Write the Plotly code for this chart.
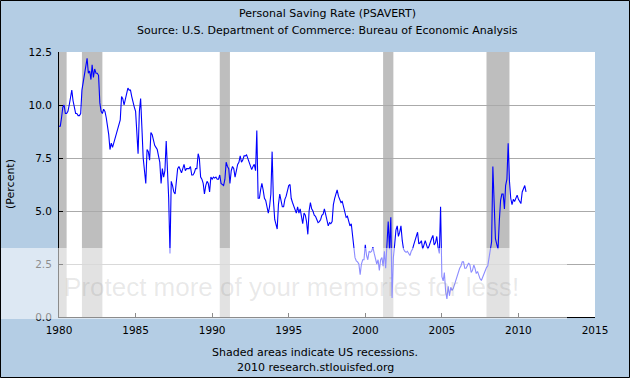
import pandas as pd
import plotly.graph_objects as go

# ---------------- data ----------------
start_month = "1980-01-01"
saving_rate = [
    # 1980
    9.0, 9.0, 9.4, 9.9, 10.0, 9.6, 9.6, 9.7, 10.0, 10.3, 10.7, 10.2,
    # 1981
    9.8, 9.6, 9.6, 9.5, 9.5, 9.6, 10.7, 11.1, 11.5, 11.9, 12.2, 11.5,
    # 1982
    11.6, 11.2, 11.9, 11.3, 11.7, 11.5, 11.5, 11.4, 10.1, 9.7, 9.6, 9.8,
    # 1983
    9.7, 9.4, 9.0, 8.6, 7.9, 8.2, 8.0, 8.2, 8.5, 8.7, 8.9, 9.0,
    # 1984
    9.3, 10.4, 10.3, 10.0, 10.3, 10.5, 10.8, 10.7, 10.7, 10.4, 10.1, 9.9,
    # 1985
    9.7, 8.6, 7.7, 9.7, 10.3, 8.9, 7.5, 6.9, 6.3, 7.9, 7.8, 7.4,
    # 1986
    8.7, 8.6, 8.3, 8.1, 8.0, 7.9, 7.6, 7.3, 6.3, 7.0, 6.6, 6.9,
    # 1987
    8.3, 6.8, 5.6, 3.0, 6.4, 6.2, 5.9, 5.8, 6.4, 7.0, 7.1, 6.9,
    # 1988
    6.8, 7.0, 7.2, 6.9, 7.0, 7.0, 7.0, 7.1, 6.7, 6.7, 6.8, 7.0,
    # 1989
    7.0, 7.7, 7.5, 6.6, 6.5, 6.3, 5.8, 6.2, 6.4, 6.3, 5.9, 6.6,
    # 1990
    6.5, 6.6, 6.55, 6.6, 6.5, 6.5, 6.7, 6.3, 6.25, 6.2, 6.5, 7.3,
    # 1991
    7.1, 7.0, 6.3, 6.9, 7.1, 7.0, 6.6, 7.0, 7.2, 7.3, 7.6, 7.3,
    # 1992
    7.4, 7.6, 7.6, 7.65, 7.5, 7.3, 7.2, 6.95, 7.1, 7.2, 6.9, 8.8,
    # 1993
    5.6, 5.6, 6.0, 6.3, 6.0, 5.6, 5.5, 5.2, 4.9, 5.2, 5.8, 7.8,
    # 1994
    5.5, 4.6, 4.3, 4.15, 5.3, 5.8, 5.5, 5.2, 5.2, 5.55, 5.7, 5.95,
    # 1995
    6.2, 6.25, 5.6, 5.4, 5.25, 5.0, 4.9, 5.2, 4.9, 5.1, 4.6, 4.4,
    # 1996
    4.9, 4.8, 4.5, 3.9, 5.0, 5.4, 5.1, 5.0, 4.8, 4.75, 4.6, 4.45,
    # 1997
    4.5, 4.6, 4.8, 4.85, 5.1, 4.8, 4.5, 4.3, 4.45, 4.4, 4.5, 5.3,
    # 1998
    5.6, 5.9, 6.0, 5.7, 5.5, 5.4, 5.45, 5.15, 4.9, 4.7, 4.75, 4.5,
    # 1999
    4.3, 4.4, 3.8, 3.1, 2.8, 2.65, 2.6, 2.5, 2.0, 2.5, 2.7, 2.7,
    # 2000
    3.4, 2.9, 2.7, 3.1, 3.05, 3.1, 3.3, 3.0, 2.8, 2.5, 2.7, 2.2,
    # 2001
    2.7, 2.8, 2.4, 3.1, 2.3, 3.4, 4.5, 3.2, 4.7, 0.9, 2.8, 3.4,
    # 2002
    4.1, 4.3, 3.8, 4.0, 4.3, 3.6, 3.2, 3.1, 3.05, 3.1, 3.0, 2.9,
    # 2003
    3.1, 3.2, 3.4, 3.6, 3.75, 4.0, 3.45, 3.5, 3.6, 3.2, 3.4, 3.6,
    # 2004
    3.4, 3.2, 3.35, 3.6, 3.7, 3.85, 3.4, 3.5, 3.8, 3.3, 3.0, 5.2,
    # 2005
    1.9, 1.7, 2.1, 1.2, 0.85, 1.45, 1.0, 1.4, 1.25, 1.35, 1.55, 1.7,
    # 2006
    2.0, 2.2, 2.3, 2.4, 2.6, 2.6, 2.3, 2.3, 2.45, 2.55, 2.45, 2.1,
    # 2007
    2.2, 2.45, 2.3, 2.05, 2.15, 1.9, 1.8, 1.72, 1.88, 2.1, 2.2, 2.33,
    # 2008
    2.42, 2.75, 3.1, 3.55, 7.1, 5.3, 3.7, 3.44, 3.2, 4.5, 5.5, 5.8,
    # 2009
    5.8, 5.1, 6.2, 6.5, 8.2, 6.4, 5.6, 5.3, 5.55, 5.45, 5.65, 5.75,
    # 2010
    5.55, 5.45, 5.35, 5.9, 6.1, 6.2, 5.9,
]

recession_starts = ["1980-01-01", "1981-07-01", "1990-07-01", "2001-03-01", "2007-12-01"]
recession_ends = ["1980-07-01", "1982-11-01", "1991-03-01", "2001-11-01", "2009-06-01"]

x_tick_years = [1980, 1985, 1990, 1995, 2000, 2005, 2010, 2015]
y_tick_values = [0.0, 2.5, 5.0, 7.5, 10.0, 12.5]

title_text = "Personal Saving Rate (PSAVERT)"
subtitle_text = "Source: U.S. Department of Commerce: Bureau of Economic Analysis"
y_title = "(Percent)"
footer_1 = "Shaded areas indicate US recessions."
footer_2 = "2010 research.stlouisfed.org"
watermark_text = "Protect more of your memories for less!"

# ---------------- layout geometry ----------------
W, H = 630, 378
L, R, T, B = 59, 35, 52, 61
PW, PH = W - L - R, H - T - B


def px_x(x):
    return (x - L) / PW


def px_y(y):
    return (H - B - y) / PH


BG = "rgb(180,205,228)"
FONT = "DejaVu Sans"

dates = pd.date_range(start_month, periods=len(saving_rate), freq="MS")

fig = go.Figure()
fig.add_trace(go.Scatter(
    x=dates, y=saving_rate, mode="lines",
    line=dict(color="#0000FF", width=1.1),
    showlegend=False, hoverinfo="x+y",
))

shapes = []
for s, e in zip(recession_starts, recession_ends):
    shapes.append(dict(
        type="rect", xref="x", yref="paper", x0=s, x1=e, y0=0, y1=1,
        fillcolor="#BEBEBE", line=dict(width=0), layer="between",
    ))

# watermark band (photo host overlay in the reference image)
shapes.append(dict(
    type="rect", xref="paper", yref="paper",
    x0=px_x(0), x1=px_x(567), y0=px_y(319), y1=px_y(248),
    fillcolor="rgba(255,255,255,0.55)", line=dict(width=0), layer="above",
))
# outer border
shapes.append(dict(
    type="rect", xref="paper", yref="paper",
    x0=px_x(0.5), x1=px_x(W - 0.5), y0=px_y(H - 0.5), y1=px_y(0.5),
    line=dict(color="#000000", width=1), fillcolor="rgba(0,0,0,0)", layer="above",
))

annotations = [
    dict(text=title_text, x=0.5, xref="paper", y=px_y(13), yref="paper",
         xanchor="center", yanchor="middle", showarrow=False,
         font=dict(family=FONT, size=11, color="#000000")),
    dict(text=subtitle_text, x=0.5, xref="paper", y=px_y(30), yref="paper",
         xanchor="center", yanchor="middle", showarrow=False,
         font=dict(family=FONT, size=11, color="#000000")),
    dict(text=y_title, x=px_x(10), xref="paper", y=px_y(184), yref="paper",
         xanchor="center", yanchor="middle", showarrow=False, textangle=-90,
         font=dict(family=FONT, size=11, color="#000000")),
    dict(text=footer_1, x=px_x(315), xref="paper", y=px_y(352), yref="paper",
         xanchor="center", yanchor="middle", showarrow=False,
         font=dict(family=FONT, size=11, color="#000000")),
    dict(text=footer_2, x=px_x(315), xref="paper", y=px_y(367), yref="paper",
         xanchor="center", yanchor="middle", showarrow=False,
         font=dict(family=FONT, size=11, color="#000000")),
    dict(text=watermark_text, x=px_x(62), xref="paper", y=px_y(287), yref="paper",
         xanchor="left", yanchor="middle", showarrow=False,
         font=dict(family="Liberation Sans", size=26, color="rgba(120,120,120,0.16)")),
]

x_tick_vals = [pd.Timestamp(f"{y}-01-01") for y in x_tick_years]

fig.update_layout(
    width=W, height=H,
    margin=dict(l=L, r=R, t=T, b=B, pad=0),
    paper_bgcolor=BG, plot_bgcolor="#FFFFFF",
    font=dict(family=FONT, size=11, color="#000000"),
    shapes=shapes, annotations=annotations,
    xaxis=dict(
        type="date",
        range=[pd.Timestamp("1980-01-01"), pd.Timestamp("2015-01-01")],
        tickvals=x_tick_vals, ticktext=[str(y) for y in x_tick_years],
        ticks="inside", ticklen=4, tickcolor="#000000", tickwidth=1,
        showline=True, linecolor="#000000", linewidth=1,
        showgrid=False, zeroline=False,
        tickfont=dict(family=FONT, size=10.5, color="#000000"),
        ticklabelstandoff=3,
        fixedrange=True,
    ),
    yaxis=dict(
        range=[0, 12.5],
        tickvals=y_tick_values, ticktext=[f"{v:.1f}" for v in y_tick_values],
        ticks="inside", ticklen=4, tickcolor="#000000", tickwidth=1,
        showline=True, linecolor="#000000", linewidth=1,
        showgrid=True, gridcolor="#AAAAAA", gridwidth=1, zeroline=False,
        tickfont=dict(family=FONT, size=10.5, color="#000000"),
        ticklabelstandoff=4,
        fixedrange=True,
    ),
)

fig.write_html(
    "out.html",
    config={"displayModeBar": False, "staticPlot": False},
    post_script="document.body.style.margin='0';document.body.style.padding='0';",
)
